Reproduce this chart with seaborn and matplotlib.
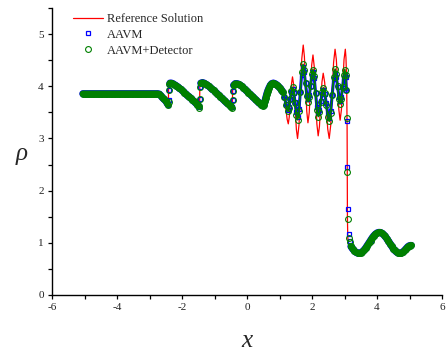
import matplotlib
matplotlib.use("Agg")
import matplotlib.pyplot as plt
import numpy as np
import seaborn as sns
from matplotlib.ticker import MultipleLocator

# ---------------- data ----------------
# numerical solution grid (shared by AAVM and AAVM+Detector)
x_flat = [-5.05, -5.0, -4.95, -4.9, -4.85, -4.8, -4.75, -4.7, -4.65, -4.6,
          -4.55, -4.5, -4.45, -4.4, -4.35, -4.3, -4.25, -4.2, -4.15, -4.1,
          -4.05, -4.0, -3.95, -3.9, -3.85, -3.8, -3.75, -3.7, -3.65, -3.6,
          -3.55, -3.5, -3.45, -3.4, -3.35, -3.3, -3.25, -3.2, -3.15, -3.1,
          -3.05, -3.0, -2.95, -2.9, -2.85, -2.8, -2.75]
rho_flat = [3.857, 3.857, 3.857, 3.857, 3.857, 3.857, 3.857, 3.857, 3.857, 3.857,
            3.857, 3.857, 3.857, 3.857, 3.857, 3.857, 3.857, 3.857, 3.857, 3.857,
            3.857, 3.857, 3.857, 3.857, 3.857, 3.857, 3.857, 3.857, 3.857, 3.857,
            3.857, 3.857, 3.857, 3.857, 3.857, 3.857, 3.857, 3.857, 3.857, 3.857,
            3.857, 3.857, 3.857, 3.857, 3.857, 3.857, 3.857]

x_saw = [-2.70, -2.65, -2.60, -2.55, -2.50, -2.46, -2.43, -2.415, -2.40, -2.385, -2.37,
         -2.33, -2.28, -2.23, -2.18, -2.13, -2.08, -2.03, -1.98, -1.93, -1.88, -1.83,
         -1.78, -1.73, -1.68, -1.63, -1.58, -1.53, -1.49, -1.465, -1.45, -1.435, -1.42,
         -1.37, -1.32, -1.27, -1.22, -1.17, -1.12, -1.07, -1.02, -0.97, -0.92, -0.87,
         -0.82, -0.77, -0.72, -0.67, -0.62, -0.57, -0.52, -0.48, -0.455, -0.44, -0.425, -0.41,
         -0.36, -0.31, -0.26, -0.21, -0.16, -0.11, -0.06, -0.01,
         0.04, 0.09, 0.14, 0.19, 0.24, 0.29, 0.34, 0.39, 0.44,
         0.48, 0.52, 0.55, 0.58, 0.61, 0.64, 0.68, 0.72, 0.76, 0.81,
         0.86, 0.91, 0.96, 1.01, 1.06, 1.10]
rho_saw_aavm = [3.85, 3.82, 3.78, 3.75, 3.72, 3.68, 3.65, 3.73, 3.93, 4.04, 4.06,
                4.06, 4.05, 4.03, 4.01, 3.99, 3.96, 3.94, 3.91, 3.88, 3.85, 3.82,
                3.80, 3.77, 3.74, 3.71, 3.68, 3.65, 3.62, 3.60, 3.75, 3.98, 4.06,
                4.07, 4.06, 4.04, 4.02, 4.00, 3.97, 3.94, 3.92, 3.89, 3.86, 3.83,
                3.80, 3.77, 3.74, 3.71, 3.68, 3.66, 3.63, 3.61, 3.61, 3.73, 3.90, 4.02,
                4.05, 4.05, 4.04, 4.02, 4.00, 3.97, 3.94, 3.91,
                3.88, 3.85, 3.82, 3.79, 3.76, 3.73, 3.70, 3.67, 3.65,
                3.63, 3.64, 3.71, 3.78, 3.85, 3.91, 3.97, 4.02, 4.05, 4.06,
                4.05, 4.03, 4.00, 3.97, 3.93, 3.89]
rho_saw_det = [3.85, 3.82, 3.78, 3.75, 3.72, 3.68, 3.65, 3.70, 3.93, 4.04, 4.06,
               4.06, 4.05, 4.03, 4.01, 3.99, 3.96, 3.94, 3.91, 3.88, 3.85, 3.82,
               3.80, 3.77, 3.74, 3.71, 3.68, 3.65, 3.62, 3.58, 3.75, 3.98, 4.06,
               4.07, 4.06, 4.04, 4.02, 4.00, 3.97, 3.94, 3.92, 3.89, 3.86, 3.83,
               3.80, 3.77, 3.74, 3.71, 3.68, 3.66, 3.63, 3.61, 3.59, 3.73, 3.90, 4.02,
               4.05, 4.05, 4.04, 4.02, 4.00, 3.97, 3.94, 3.91,
               3.88, 3.85, 3.82, 3.79, 3.76, 3.73, 3.70, 3.67, 3.65,
               3.63, 3.64, 3.71, 3.78, 3.85, 3.91, 3.97, 4.02, 4.05, 4.06,
               4.05, 4.03, 4.00, 3.97, 3.93, 3.89]

x_osc = [1.15, 1.20, 1.26, 1.295, 1.33, 1.365, 1.40, 1.44, 1.48, 1.52,
         1.555, 1.60, 1.64, 1.68, 1.725, 1.76, 1.80, 1.84, 1.88, 1.92,
         1.955, 1.99, 2.03, 2.07, 2.11, 2.15, 2.195, 2.23, 2.27, 2.31,
         2.35, 2.395, 2.44, 2.485, 2.53, 2.575, 2.62, 2.665, 2.71, 2.75,
         2.79, 2.83, 2.865, 2.90, 2.94, 2.97, 3.01, 3.035, 3.06, 3.075,
         3.09, 3.12, 3.145, 3.165]
rho_osc_aavm = [3.80, 3.66, 3.55, 3.61, 3.75, 3.89, 3.95, 3.87, 3.69, 3.50,
                3.42, 3.56, 3.89, 4.22, 4.36, 4.27, 4.06, 3.84, 3.75, 3.83,
                4.01, 4.19, 4.27, 4.15, 3.88, 3.60, 3.48, 3.55, 3.71, 3.86,
                3.93, 3.85, 3.67, 3.48, 3.40, 3.52, 3.83, 4.13, 4.25, 4.17,
                3.99, 3.80, 3.72, 3.79, 3.97, 4.15, 4.22, 4.17, 3.92, 3.33,
                2.46, 1.64, 1.17, 1.03]
rho_osc_det = [3.79, 3.64, 3.52, 3.59, 3.75, 3.91, 3.98, 3.89, 3.67, 3.45,
               3.36, 3.52, 3.89, 4.27, 4.42, 4.31, 4.06, 3.81, 3.70, 3.79,
               4.01, 4.23, 4.32, 4.19, 3.87, 3.55, 3.42, 3.50, 3.70, 3.89,
               3.97, 3.88, 3.65, 3.42, 3.33, 3.48, 3.83, 4.18, 4.33, 4.23,
               4.00, 3.76, 3.66, 3.76, 3.99, 4.22, 4.32, 4.22, 3.93, 3.40,
               2.35, 1.46, 1.09, 1.01]

x_post = [3.20, 3.25, 3.30, 3.35, 3.40, 3.45, 3.50, 3.55, 3.60, 3.65,
          3.70, 3.75, 3.80, 3.85, 3.90, 3.95, 4.00, 4.05, 4.10, 4.15,
          4.20, 4.25, 4.30, 4.35, 4.40, 4.45, 4.50, 4.55, 4.60, 4.65,
          4.70, 4.75, 4.80, 4.85, 4.90, 4.95, 5.00, 5.05]
rho_post = [0.930, 0.885, 0.848, 0.821, 0.804, 0.800, 0.808, 0.829, 0.859, 0.899,
            0.945, 0.994, 1.044, 1.091, 1.132, 1.165, 1.188, 1.199, 1.198, 1.184,
            1.159, 1.124, 1.082, 1.034, 0.984, 0.935, 0.891, 0.853, 0.824, 0.806,
            0.800, 0.807, 0.826, 0.855, 0.890, 0.925, 0.945, 0.950]

# reference solution (left of x = 3.2; continues with the post-shock wave)
x_ref_left = [-5.08, -2.73, -2.65, -2.60, -2.50, -2.43, -2.42, -2.41, -2.38, -2.30,
              -2.20, -2.00, -1.80, -1.60, -1.48, -1.46, -1.45, -1.40, -1.20, -1.00,
              -0.80, -0.60, -0.47, -0.45, -0.44, -0.36, -0.20, 0.00, 0.20, 0.40,
              0.48, 0.52, 0.55, 0.60, 0.65, 0.70, 0.76, 0.81, 0.90, 1.00,
              1.10, 1.15, 1.20, 1.235, 1.27, 1.30, 1.335, 1.37, 1.40, 1.44,
              1.48, 1.52, 1.555, 1.60, 1.6425, 1.686, 1.73, 1.766, 1.8025, 1.839,
              1.875, 1.914, 1.9525, 1.991, 2.03, 2.07, 2.11, 2.15, 2.19, 2.229,
              2.2675, 2.306, 2.345, 2.391, 2.4375, 2.484, 2.53, 2.575, 2.62, 2.665,
              2.71, 2.749, 2.7875, 2.826, 2.865, 2.905, 2.945, 2.985, 3.025, 3.045,
              3.06, 3.07, 3.08, 3.085, 3.09, 3.10, 3.115, 3.14, 3.17]
rho_ref_left = [3.857, 3.857, 3.82, 3.78, 3.72, 3.66, 3.65, 4.06, 4.07, 4.05,
                4.01, 3.93, 3.81, 3.70, 3.62, 3.59, 4.05, 4.07, 4.01, 3.91,
                3.79, 3.67, 3.61, 3.60, 4.04, 4.05, 4.02, 3.91, 3.79, 3.67,
                3.63, 3.64, 3.71, 3.82, 3.92, 3.99, 4.05, 4.06, 4.04, 3.97,
                3.89, 3.76, 3.55, 3.37, 3.28, 3.41, 3.73, 4.05, 4.18, 4.01,
                3.59, 3.17, 3.00, 3.26, 3.90, 4.53, 4.79, 4.57, 4.05, 3.52,
                3.30, 3.49, 3.95, 4.41, 4.60, 4.37, 3.83, 3.28, 3.05, 3.23,
                3.65, 4.08, 4.25, 4.07, 3.63, 3.18, 3.00, 3.25, 3.86, 4.46,
                4.71, 4.51, 4.03, 3.55, 3.35, 3.55, 4.03, 4.51, 4.71, 4.55,
                4.25, 3.85, 3.20, 2.20, 1.50, 1.12, 1.00, 0.97, 0.95]

x_num = x_flat + x_saw + x_osc + x_post
rho_aavm = rho_flat + rho_saw_aavm + rho_osc_aavm + rho_post
rho_det = rho_flat + rho_saw_det + rho_osc_det + rho_post
x_ref = x_ref_left + x_post
rho_ref = rho_ref_left + rho_post

# grid points that sit inside a discontinuity (drawn as separate symbols only)
x_jump_points = [-2.415, -2.40, -2.385, -1.465, -1.45, -1.435,
                 -0.455, -0.44, -0.425, 3.075, 3.09, 3.12, 3.145, 3.165]

x_ticks = [-6, -4, -2, 0, 2, 4, 6]
y_ticks = [0, 1, 2, 3, 4, 5]

# ---------------- styling ----------------
sns.set_style("ticks")
plt.rcParams["font.family"] = ["Liberation Serif", "DejaVu Serif"]
plt.rcParams["axes.unicode_minus"] = False

BLUE, GREEN, RED = "#0000ff", "#008000", "#ff0000"
W, H = 446, 354
fig = plt.figure(figsize=(W / 100, H / 100), dpi=100)
ax = fig.add_axes([52 / W, 1 - 295 / H, 390 / W, 287 / H])

sns.lineplot(x=x_ref, y=rho_ref, sort=False, estimator=None, color=RED,
             linewidth=0.9, ax=ax, label="Reference Solution", zorder=2)

# densely packed symbols of the numerical solutions merge into a band
xn = np.array(x_num)
keep = ~np.isin(xn, x_jump_points)
osc = keep & (xn > 1.12) & (xn < 3.18)
smooth = keep & ~osc
band_a = np.where(smooth, np.array(rho_aavm), np.nan)
band_d = np.where(smooth, np.array(rho_det), np.nan)
osc_a = np.where(osc | (np.isin(xn, [1.10])), np.array(rho_aavm), np.nan)
osc_d = np.where(osc | (np.isin(xn, [1.10])), np.array(rho_det), np.nan)

ax.plot(xn, band_a, color=BLUE, lw=5.2, solid_capstyle="round",
        solid_joinstyle="round", zorder=2.5)
ax.plot(xn, osc_a, color=BLUE, lw=2.2, solid_capstyle="round",
        solid_joinstyle="round", zorder=2.5)

sns.lineplot(x=x_num, y=rho_aavm, sort=False, estimator=None, color=BLUE,
             linestyle="", marker="s", markersize=3.3, markerfacecolor="none",
             markeredgecolor=BLUE, markeredgewidth=0.9, ax=ax, label="AAVM",
             zorder=2.55)

ax.plot(xn, band_d, color=GREEN, lw=4.7, solid_capstyle="round",
        solid_joinstyle="round", zorder=2.6)
ax.plot(xn, osc_d, color=GREEN, lw=1.2, solid_capstyle="round",
        solid_joinstyle="round", zorder=2.6)

sns.lineplot(x=x_num, y=rho_det, sort=False, estimator=None, color=GREEN,
             linestyle="", marker="o", markersize=4.2, markerfacecolor="none",
             markeredgecolor=GREEN, markeredgewidth=0.8, ax=ax,
             label="AAVM+Detector", zorder=3.1)

ax.set_xlim(-6, 6)
ax.set_ylim(0, 5.5)
ax.set_xticks(x_ticks)
ax.set_yticks(y_ticks)
ax.xaxis.set_minor_locator(MultipleLocator(1))
ax.yaxis.set_minor_locator(MultipleLocator(0.5))
ax.tick_params(which="both", direction="out", length=3, width=0.9,
               color="black")
ax.tick_params(which="major", labelsize=8, pad=3, labelcolor="#222222")
for s in ["top", "right"]:
    ax.spines[s].set_visible(False)
for s in ["left", "bottom"]:
    ax.spines[s].set_linewidth(1.0)
    ax.spines[s].set_color("black")

ax.set_xlabel("x", fontsize=18, fontstyle="italic")
ax.set_ylabel("ρ", fontsize=18, fontstyle="italic", rotation=0)
ax.xaxis.label.set_va("center")
ax.yaxis.label.set_va("center")
ax.yaxis.label.set_ha("center")
ax.xaxis.set_label_coords(0.5, -0.16)
ax.yaxis.set_label_coords(-0.077, 0.49)

leg = ax.legend(loc="upper left", bbox_to_anchor=(73 / W, 1 - 13 / H),
                bbox_transform=fig.transFigure, frameon=False, fontsize=9,
                borderpad=0, borderaxespad=0, handlelength=2.4,
                handletextpad=0.3, labelspacing=0.3, numpoints=1)

fig.savefig("out.png", dpi=100)
